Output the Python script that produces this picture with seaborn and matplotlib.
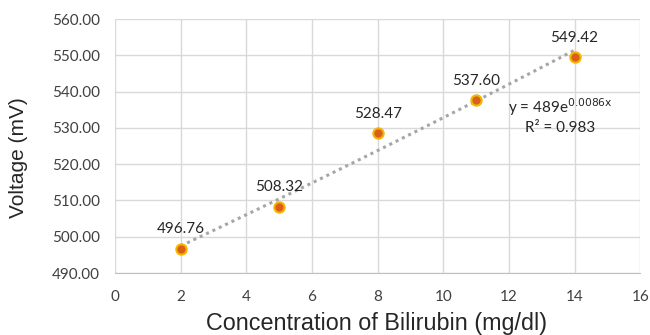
import numpy as np
import pandas as pd
import matplotlib
matplotlib.use("Agg")
import matplotlib.pyplot as plt
import seaborn as sns

# data
conc    = [2, 5, 8, 11, 14]
voltage = [496.76, 508.32, 528.47, 537.60, 549.42]
labels  = ["496.76", "508.32", "528.47", "537.60", "549.42"]
x_ticks = [0, 2, 4, 6, 8, 10, 12, 14, 16]
y_ticks = [490, 500, 510, 520, 530, 540, 550, 560]

df = pd.DataFrame({"conc": conc, "voltage": voltage})

sns.set_style("white")
plt.rcParams["font.family"] = ["Lato", "DejaVu Sans"]

fig = plt.figure(figsize=(6.5, 3.35), dpi=100)
ax = fig.add_axes([0.177, 0.185, 0.808, 0.758])

# exponential trendline fitted on the points
b, ln_a = np.polyfit(df["conc"], np.log(df["voltage"]), 1)
xs = np.linspace(min(conc), max(conc), 50)
ax.plot(xs, np.exp(ln_a) * np.exp(b * xs), linestyle=(0, (1, 1.3)),
        color="#a6a6a6", linewidth=2.2, zorder=2)

sns.scatterplot(data=df, x="conc", y="voltage", ax=ax, s=55,
                color="#d9601a", edgecolor="#f5b400", linewidth=1.5, zorder=3)

for xv, yv, lb in zip(conc, voltage, labels):
    ax.annotate(lb, (xv, yv), xytext=(0, 9), textcoords="offset points",
                ha="center", va="bottom", fontsize=11, color="#262626")

ax.text(13.55, 535.7, r"y = 489e$^{\mathrm{0.0086x}}$", ha="center", va="center",
        fontsize=11, color="#262626")
ax.text(13.55, 530.0, "R² = 0.983", ha="center", va="center",
        fontsize=11, color="#262626")

ax.set_xlim(0, 16)
ax.set_ylim(490, 560)
ax.set_xticks(x_ticks)
ax.set_yticks(y_ticks)
ax.set_yticklabels([f"{v:.2f}" for v in y_ticks])
ax.grid(True, color="#d9d9d9", linewidth=1)
for s in ax.spines.values():
    s.set_visible(False)
ax.spines["bottom"].set_visible(True)
ax.spines["bottom"].set_color("#bfbfbf")
ax.tick_params(axis="both", length=0, labelsize=11, colors="#404040")
ax.tick_params(axis="y", pad=11)
ax.tick_params(axis="x", pad=12)

ax.set_xlabel("Concentration of Bilirubin (mg/dl)", fontsize=16.8,
              family="Liberation Sans", color="#262626")
ax.set_ylabel("Voltage (mV)", fontsize=15, family="Liberation Sans",
              color="#262626")
ax.xaxis.set_label_coords(0.498, -0.155)
ax.yaxis.set_label_coords(-0.166, 0.453)

fig.savefig("out.png", dpi=100)
